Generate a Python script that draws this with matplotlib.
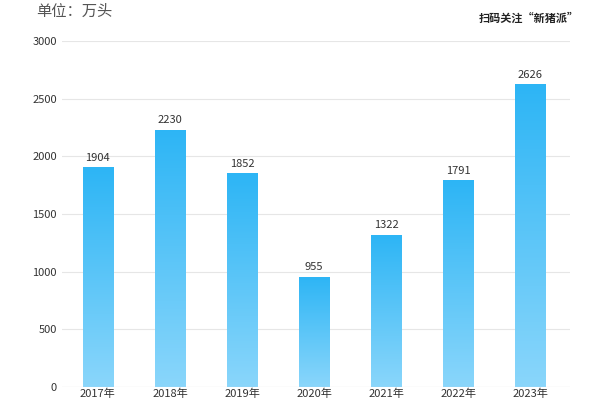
import numpy as np
import matplotlib.pyplot as plt
from matplotlib.colors import LinearSegmentedColormap

plt.rcParams['font.family'] = ['Noto Sans CJK SC', 'DejaVu Sans']

years = ["2017年", "2018年", "2019年", "2020年", "2021年", "2022年", "2023年"]
values = [1904, 2230, 1852, 955, 1322, 1791, 2626]

fig = plt.figure(figsize=(6, 4), dpi=100)
ax = fig.add_axes([0.103, 0.0325, 0.847, 0.865])

cmap = LinearSegmentedColormap.from_list("bar", ["#8ad6fb", "#2db5f5"])
grad = np.linspace(0, 1, 256).reshape(-1, 1)
w = 0.42
for i, v in enumerate(values):
    bar = ax.bar(i, v, width=w, color="none", edgecolor="none")[0]
    im = ax.imshow(grad, extent=[i - w / 2, i + w / 2, 0, v], origin="lower",
                   cmap=cmap, aspect="auto", zorder=2)
    im.set_clip_path(bar)
    ax.text(i, v + 40, str(v), ha="center", va="bottom", fontsize=8, color="#333333")

ax.set_xlim(-0.5, 6.55)
ax.set_ylim(0, 3000)
ax.set_yticks(range(0, 3001, 500))
ax.yaxis.grid(True, color="#e6e6e6", linewidth=0.8)
ax.set_axisbelow(True)
ax.set_xticks(range(len(years)))
ax.set_xticklabels(years, fontsize=8, color="#333333")
ax.tick_params(axis="both", length=0, labelsize=8, colors="#333333")
ax.tick_params(axis="x", pad=1)
for s in ax.spines.values():
    s.set_visible(False)
ax.axhline(0, color="#e6e6e6", linewidth=0.8)

fig.text(0.06, 0.972, "单位：万头", fontsize=11, color="#555555", va="center")
fig.text(0.965, 0.955, "扫码关注“新猪派”", fontsize=8, fontweight="bold",
         color="#222222", ha="right", va="center")

fig.savefig("out.png", dpi=100)
